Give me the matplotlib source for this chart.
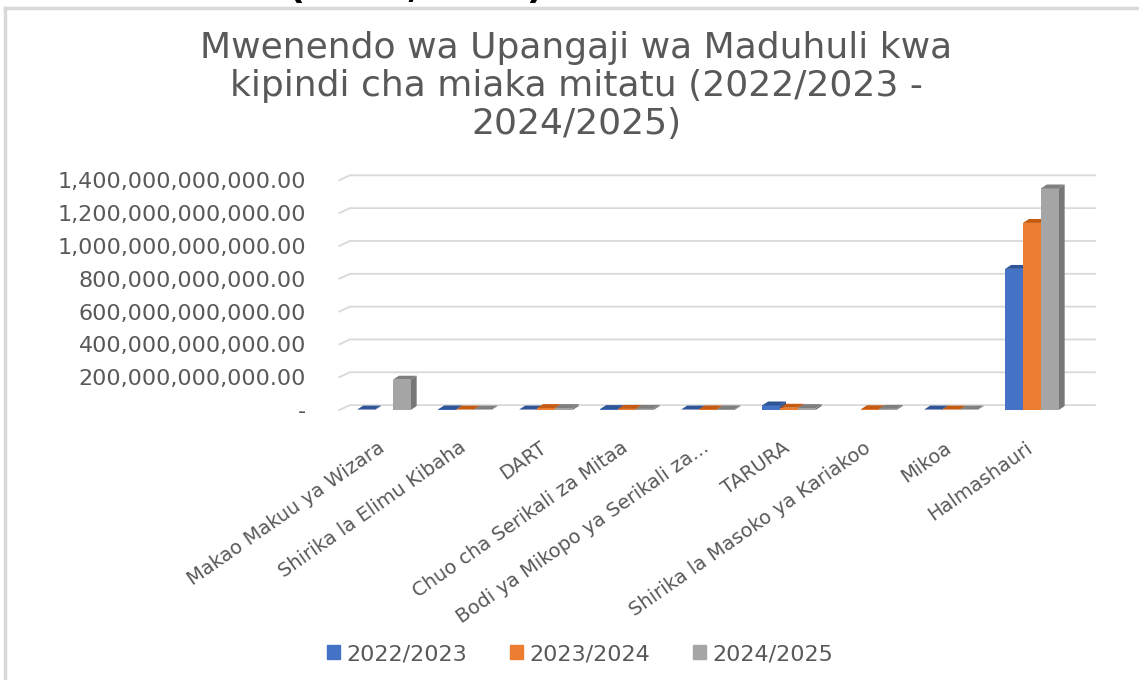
import numpy as np
import matplotlib.pyplot as plt
from matplotlib.patches import Patch

# categories and values (TZS)
categories = ["Makao Makuu ya Wizara", "Shirika la Elimu Kibaha", "DART",
              "Chuo cha Serikali za Mitaa", "Bodi ya Mikopo ya Serikali za...",
              "TARURA", "Shirika la Masoko ya Kariakoo", "Mikoa", "Halmashauri"]
years = ["2022/2023", "2023/2024", "2024/2025"]
v_2022 = [3e9, 4e9, 3e9, 6e9, 3e9, 28e9, 0, 3e9, 860e9]
v_2023 = [0, 3e9, 12e9, 7e9, 4e9, 14e9, 5e9, 3e9, 1140e9]
v_2024 = [185e9, 3e9, 12e9, 7e9, 4e9, 12e9, 7e9, 3e9, 1350e9]
y_ticks = [0, 200e9, 400e9, 600e9, 800e9, 1000e9, 1200e9, 1400e9]

front = ["#4472c4", "#ed7d31", "#a5a5a5"]
top = ["#2f5597", "#c55a11", "#7f7f7f"]
side = ["#30528f", "#ae5a21", "#777777"]
grey_txt = "#595959"

plt.rcParams['font.family'] = ['DejaVu Sans']

fig = plt.figure(figsize=(11.39, 6.8), dpi=100)
ax = fig.add_axes([0.2979, 0.397, 0.6635, 0.35])

xmin, xmax = -0.55, 8.78
ax.set_xlim(xmin, xmax)
ax.set_ylim(0, 1.45e12)

# back wall gridlines with a little slant for the 3d look
gdx, gdy = 0.13, 3.0e10
for v in y_ticks:
    ax.plot([xmin, xmin + gdx, xmax], [v, v + gdy, v + gdy],
            color="#d9d9d9", lw=1.3, zorder=0, clip_on=False)

w = 0.22
ddx, ddy = 0.075, 2.4e10
x = np.arange(len(categories))
series = [v_2022, v_2023, v_2024]
for i, vals in enumerate(series):
    xs = x + (i - 1) * w
    for xc, v in zip(xs, vals):
        if v <= 0:
            continue
        l, r = xc - w / 2, xc + w / 2
        ax.bar(xc, v, width=w, color=front[i], zorder=2 + i)
        ax.fill([l, r, r + ddx, l + ddx], [v, v, v + ddy, v + ddy],
                color=top[i], zorder=2 + i, lw=0)
        ax.fill([r, r + ddx, r + ddx, r], [0, ddy, v + ddy, v],
                color=side[i], zorder=1.9 + i, lw=0)

ax.set_yticks(y_ticks)
ax.set_yticklabels(["-" if t == 0 else f"{t:,.2f}" for t in y_ticks])
ax.set_xticks(x - 0.08)
ax.set_xticklabels(categories, rotation=35, ha="right", rotation_mode="anchor")
ax.tick_params(axis="y", length=0, pad=24, labelsize=16, labelcolor=grey_txt)
ax.tick_params(axis="x", length=0, pad=20, labelsize=14, labelcolor=grey_txt)
for s in ax.spines.values():
    s.set_visible(False)

fig.text(0.506, 1 - 31 / 680,
         "Mwenendo wa Upangaji wa Maduhuli kwa\nkipindi cha miaka mitatu (2022/2023 -\n2024/2025)",
         ha="center", va="top", fontsize=26, color=grey_txt, linespacing=1.15)

# chart frame (only left and top edges fall inside the picture)
fig.add_artist(plt.Line2D([5 / 1139, 5 / 1139], [0, 1 - 8 / 680],
                          color="#d9d9d9", lw=2.5))
fig.add_artist(plt.Line2D([5 / 1139, 1], [1 - 8 / 680, 1 - 8 / 680],
                          color="#d9d9d9", lw=2.5))
# heading of the page above the chart, only its lowest strokes show
fig.text(416 / 1139, 1 + 2 / 680, "(2022/2025)", ha="center", va="baseline",
         fontsize=27, fontweight="bold", color="black")

handles = [Patch(color=c, label=y) for c, y in zip(front, years)]
fig.legend(handles=handles, loc="center", bbox_to_anchor=(580 / 1139, 1 - 654 / 680),
           ncol=3, frameon=False, fontsize=16, labelcolor=grey_txt,
           handlelength=0.6, handleheight=0.6, handletextpad=0.3, columnspacing=1.9)

fig.savefig("out.png", dpi=100)
